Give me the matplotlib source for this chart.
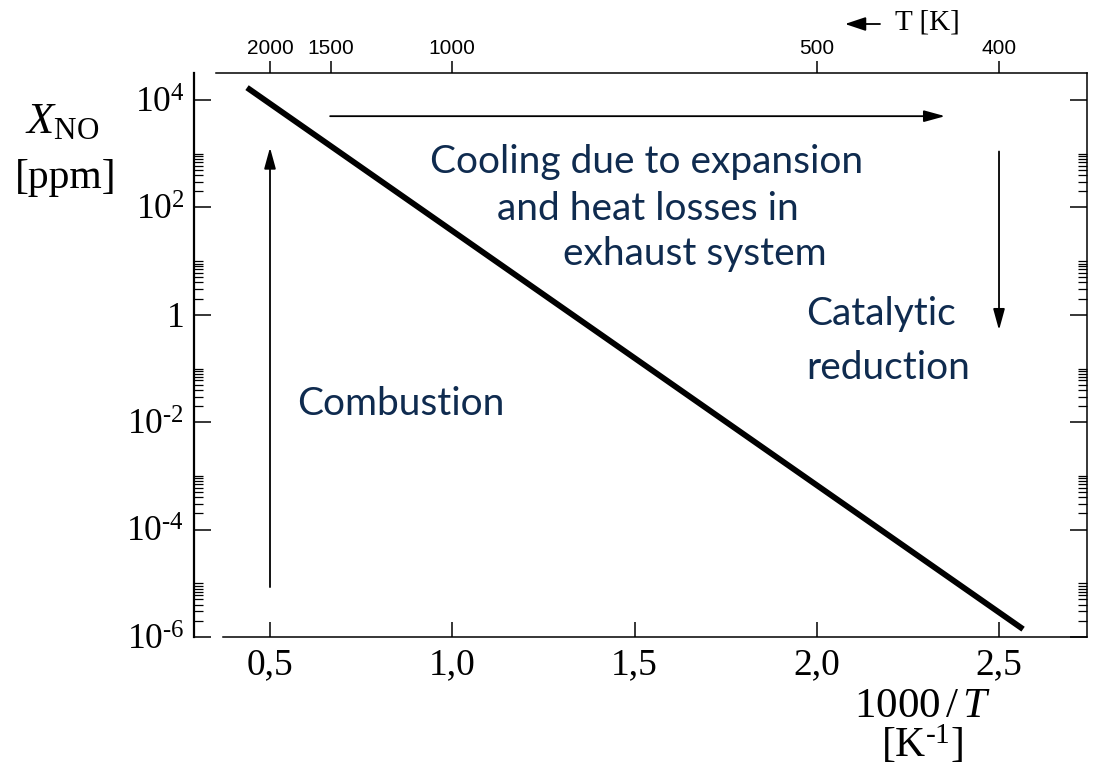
import numpy as np
import matplotlib
matplotlib.use("Agg")
import matplotlib.pyplot as plt
from matplotlib.ticker import NullLocator

plt.rcParams["mathtext.fontset"] = "custom"
plt.rcParams["mathtext.rm"] = "Liberation Serif"
plt.rcParams["mathtext.it"] = "Liberation Serif:italic"
plt.rcParams["font.family"] = "Liberation Serif"

# NO mole fraction vs inverse temperature
inv_T = [0.437, 2.566]
x_no = [1.7e4, 1.4e-6]

x_ticks = [0.5, 1.0, 1.5, 2.0, 2.5]
x_labels = ["0,5", "1,0", "1,5", "2,0", "2,5"]
y_ticks = [1e-6, 1e-4, 1e-2, 1, 1e2, 1e4]
y_labels = [r"$10^{\text{-}6}$", r"$10^{\text{-}4}$", r"$10^{\text{-}2}$", "1",
            r"$10^{2}$", r"$10^{4}$"]
T_ticks = [2000, 1500, 1000, 500, 400]

# annotation arrows: (start, end) in data coords
combustion_arrow = [(0.5, 8.5e-6), (0.5, 1.3e3)]
cooling_arrow = [(0.665, 5.0e3), (2.352, 5.0e3)]
catalytic_arrow = [(2.5, 1.1e3), (2.5, 0.52)]

navy = "#0F2B4F"
note_font = "Lato"
note_size = 28

fig = plt.figure(figsize=(10.93, 7.69), dpi=100)
ax = fig.add_axes([194 / 1093, 132 / 769, 893 / 1093, 564 / 769])

ax.plot(inv_T, x_no, color="black", lw=4.2, solid_capstyle="butt")

ax.set_yscale("log")
ax.set_xlim(0.2915, 2.7414)
ax.set_ylim(1e-6, 10 ** 4.503)

ax.set_yticks(y_ticks)
ax.set_yticklabels(y_labels)
minor = [k * 10.0 ** n for n in (-6, -4, -2, 0, 2) for k in range(2, 11)]
ax.set_yticks(minor, minor=True)
ax.yaxis.set_minor_formatter(plt.NullFormatter())
ax.set_xticks(x_ticks)
ax.set_xticklabels(x_labels)
ax.xaxis.set_minor_locator(NullLocator())

ax.tick_params(axis="y", which="major", direction="in", length=12, width=1.1,
               left=True, right=True, labelsize=25.5, pad=7)
ax.tick_params(axis="y", which="minor", direction="in", length=6.5, width=0.9,
               left=True, right=True)
ax.tick_params(axis="x", which="major", direction="in", length=11, width=1.1,
               bottom=True, top=False, labelsize=27, pad=8)

for side in ["left", "right", "top", "bottom"]:
    ax.spines[side].set_linewidth(1.1)
ax.spines["left"].set_linewidth(1.6)
ax.spines["bottom"].set_bounds(0.371, 2.7414)
ax.spines["top"].set_bounds(0.352, 2.7414)

# top temperature axis
ax2 = ax.twiny()
ax2.set_xlim(ax.get_xlim())
ax2.set_xticks([1000.0 / T for T in T_ticks])
ax2.set_xticklabels([str(T) for T in T_ticks], family="Liberation Sans", fontsize=15)
ax2.xaxis.set_minor_locator(NullLocator())
ax2.tick_params(axis="x", direction="out", length=9, width=1.1, pad=2)
for side in ax2.spines:
    ax2.spines[side].set_visible(False)

# arrows
head = "-|>,head_length=0.8,head_width=0.22"
for (x0, y0), (x1, y1) in [combustion_arrow, cooling_arrow, catalytic_arrow]:
    ax.annotate("", xy=(x1, y1), xytext=(x0, y0),
                arrowprops=dict(arrowstyle=head, color="black", lw=1.3,
                                mutation_scale=16, shrinkA=0, shrinkB=0))

# notes
ax.text(1.534, 437, "Cooling due to expansion", color=navy, fontsize=note_size,
        family=note_font, ha="center", va="baseline")
ax.text(1.537, 58.2, "and heat losses in", color=navy, fontsize=note_size,
        family=note_font, ha="center", va="baseline")
ax.text(1.666, 8.45, "exhaust system", color=navy, fontsize=note_size,
        family=note_font, ha="center", va="baseline")
ax.text(1.970, 0.645, "Catalytic", color=navy, fontsize=note_size,
        family=note_font, ha="left", va="baseline")
ax.text(1.970, 0.0637, "reduction", color=navy, fontsize=note_size,
        family=note_font, ha="left", va="baseline")
ax.text(0.574, 0.0136, "Combustion", color=navy, fontsize=note_size,
        family=note_font, ha="left", va="baseline")

# axis labels
fig.text(62 / 1093, 1 - 122 / 769, r"$X_{\mathrm{NO}}$", fontsize=32,
         ha="center", va="center")
fig.text(66 / 1093, 1 - 178 / 769, "[ppm]", fontsize=30, ha="center", va="center")
fig.text(922 / 1093, 1 - 707 / 769, r"$1000\,/\,T$", fontsize=31,
         ha="center", va="center")
fig.text(922 / 1093, 1 - 745 / 769, r"$[\mathrm{K}^{\text{-}1}]$", fontsize=30,
         ha="center", va="center")

fig.text(927 / 1093, 1 - 22 / 769, "T [K]", fontsize=21, ha="center", va="center")
fig.add_artist(matplotlib.patches.FancyArrowPatch(
    (880 / 1093, 1 - 24 / 769), (845 / 1093, 1 - 24 / 769),
    transform=fig.transFigure, arrowstyle="-|>,head_length=0.9,head_width=0.3",
    mutation_scale=14, color="black", lw=1.3, shrinkA=0, shrinkB=0))

fig.savefig("out.png", dpi=100)
